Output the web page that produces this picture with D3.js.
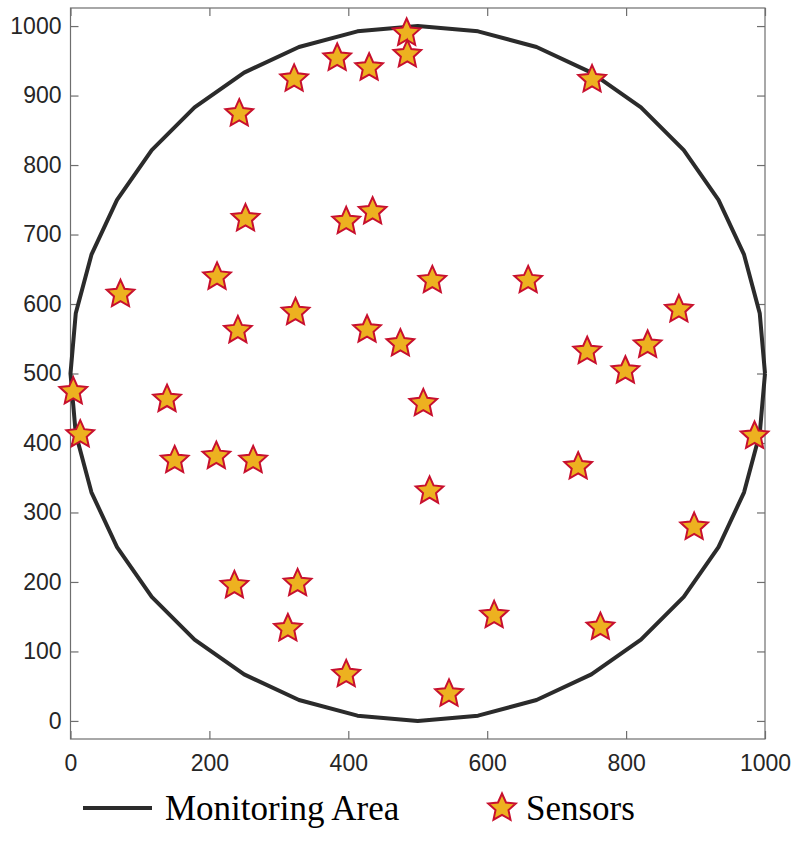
<!DOCTYPE html>
<html>
<head>
<meta charset="utf-8">
<script src="https://cdn.jsdelivr.net/npm/d3@7"></script>
<style>
  body { margin: 0; background: #fff; }
</style>
</head>
<body>
<div id="chart"></div>
<script>
// sensor positions
var sensorX = [484, 485, 384, 430, 322, 751, 243, 252, 397, 435,
               211, 72, 521, 659, 324, 876, 241, 427, 475, 744,
               831, 799, 4, 139, 508, 14, 985, 210, 150, 263,
               731, 517, 898, 236, 327, 313, 610, 763, 397, 545];
var sensorY = [990, 959, 954, 940, 924, 923, 874, 723, 719, 733,
               639, 614, 634, 634, 588, 592, 562, 563, 543, 532,
               541, 504, 474, 463, 457, 412, 410, 381, 375, 375,
               366, 331, 279, 195, 198, 133, 152, 135, 67, 39];

// monitoring area: polygon approximation of a circle
var areaCenter = [500, 500];
var areaRadius = 500;
var areaSides = 36;

var xTicks = [0, 200, 400, 600, 800, 1000];
var yTicks = [0, 100, 200, 300, 400, 500, 600, 700, 800, 900, 1000];

var legendLabels = ["Monitoring Area", "Sensors"];

var width = 793;
var height = 861;

var svg = d3.select("#chart")
  .append("svg")
  .attr("width", width)
  .attr("height", height);

var x = d3.scaleLinear()
  .domain([0, 1000])
  .range([70.5, 765]);

var y = d3.scaleLinear()
  .domain([-26, 1026])
  .range([739, 8]);

var axisColor = "#6e6e6e";
var textColor = "#262626";
var sansFont = "'Liberation Sans', Arial, sans-serif";
var serifFont = "'Liberation Serif', 'Times New Roman', serif";
var fmt = d3.format("d");

// axes with inward ticks on all four sides
var gLeft = svg.append("g")
  .attr("transform", "translate(" + x(0) + ",0)")
  .call(d3.axisLeft(y).tickValues(yTicks).tickFormat(fmt).tickSize(-8).tickPadding(9));

var gBottom = svg.append("g")
  .attr("transform", "translate(0," + y.range()[0] + ")")
  .call(d3.axisBottom(x).tickValues(xTicks).tickFormat(fmt).tickSize(-8).tickPadding(16));

var gRight = svg.append("g")
  .attr("transform", "translate(" + x(1000) + ",0)")
  .call(d3.axisRight(y).tickValues(yTicks).tickSize(-8).tickFormat(""));

var gTop = svg.append("g")
  .attr("transform", "translate(0," + y.range()[1] + ")")
  .call(d3.axisTop(x).tickValues(xTicks).tickSize(-8).tickFormat(""));

[gLeft, gBottom, gRight, gTop].forEach(function(g) {
  g.select(".domain").remove();
  g.selectAll(".tick line").attr("stroke", axisColor).attr("stroke-width", 1.2);
  g.selectAll(".tick text")
    .attr("fill", textColor)
    .style("font-family", sansFont)
    .style("font-size", "23px");
});

svg.append("rect")
  .attr("x", x(0))
  .attr("y", y.range()[1])
  .attr("width", x(1000) - x(0))
  .attr("height", y.range()[0] - y.range()[1])
  .attr("fill", "none")
  .attr("stroke", axisColor)
  .attr("stroke-width", 1.2);

// monitoring area outline
var areaPoints = d3.range(areaSides + 1).map(function(i) {
  var a = i * 2 * Math.PI / areaSides;
  return [areaCenter[0] + areaRadius * Math.cos(a), areaCenter[1] + areaRadius * Math.sin(a)];
});

var line = d3.line()
  .x(function(d) { return x(d[0]); })
  .y(function(d) { return y(d[1]); });

svg.append("path")
  .datum(areaPoints)
  .attr("d", line)
  .attr("fill", "none")
  .attr("stroke", "#2b2b2b")
  .attr("stroke-width", 4)
  .attr("stroke-linejoin", "round");

// fatter pentagram, like the matlab 'p' marker
var fatStar = {
  draw: function(context, size) {
    var r = Math.sqrt(size), ri = r * 0.47;
    for (var k = 0; k < 10; k++) {
      var rr = k % 2 ? ri : r;
      var a = -Math.PI / 2 + k * Math.PI / 5;
      if (k == 0) context.moveTo(rr * Math.cos(a), rr * Math.sin(a));
      else context.lineTo(rr * Math.cos(a), rr * Math.sin(a));
    }
    context.closePath();
  }
};

var star = d3.symbol().type(fatStar).size(14.5 * 14.5);
var starFill = "#EDB120";
var starStroke = "#C8102E";

svg.selectAll(".sensor")
  .data(sensorX)
  .enter()
  .append("path")
  .attr("class", "sensor")
  .attr("d", star)
  .attr("transform", function(d, i) {
    return "translate(" + x(d) + "," + y(sensorY[i]) + ")";
  })
  .attr("fill", starFill)
  .attr("stroke", starStroke)
  .attr("stroke-width", 2);

// legend
var legendY = 808;

svg.append("line")
  .attr("x1", 83)
  .attr("x2", 152)
  .attr("y1", legendY)
  .attr("y2", legendY)
  .attr("stroke", "#2b2b2b")
  .attr("stroke-width", 4);

svg.append("text")
  .attr("x", 165)
  .attr("y", 820)
  .attr("fill", "black")
  .style("font-family", serifFont)
  .style("font-size", "35px")
  .text(legendLabels[0]);

svg.append("path")
  .attr("d", star)
  .attr("transform", "translate(502," + legendY + ")")
  .attr("fill", starFill)
  .attr("stroke", starStroke)
  .attr("stroke-width", 2);

svg.append("text")
  .attr("x", 526)
  .attr("y", 820)
  .attr("fill", "black")
  .style("font-family", serifFont)
  .style("font-size", "35px")
  .text(legendLabels[1]);
</script>
</body>
</html>
